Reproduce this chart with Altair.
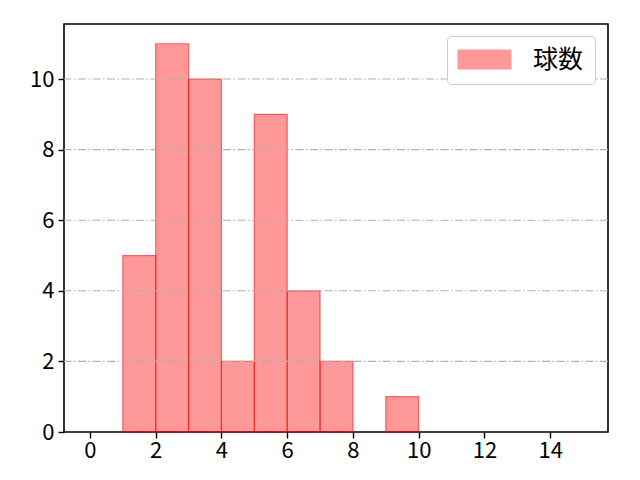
import altair as alt
import pandas as pd

bin_start = [1, 2, 3, 4, 5, 6, 7, 9]
bin_end = [2, 3, 4, 5, 6, 7, 8, 10]
counts = [5, 11, 10, 2, 9, 4, 2, 1]
series = ["球数"] * len(counts)
x_ticks = [0, 2, 4, 6, 8, 10, 12, 14]
y_ticks = [0, 2, 4, 6, 8, 10]
grid_y = [2, 4, 6, 8, 10]

bars_df = pd.DataFrame({"start": bin_start, "end": bin_end, "count": counts, "series": series})
grid_df = pd.DataFrame({"y": grid_y})

FONT = "Noto Sans CJK JP"
xscale = alt.Scale(domain=[-0.79, 15.76], nice=False, zero=False)
yscale = alt.Scale(domain=[0, 11.56], nice=False, zero=False)

bars = alt.Chart(bars_df).mark_rect(
    stroke="#ff0000", strokeOpacity=0.55, strokeWidth=1.2, fillOpacity=0.4
).encode(
    x=alt.X("start:Q", scale=xscale,
            axis=alt.Axis(values=x_ticks, title=None, grid=False, domain=False,
                          tickColor="black", tickSize=6, tickWidth=1.4,
                          labelFontSize=22, labelFont=FONT, labelColor="black",
                          labelPadding=2, format="d")),
    x2="end:Q",
    y=alt.Y("count:Q", scale=yscale,
            axis=alt.Axis(values=y_ticks, title=None, grid=False, domain=False,
                          tickColor="black", tickSize=6, tickWidth=1.4,
                          labelFontSize=22, labelFont=FONT, labelColor="black",
                          labelPadding=4, format="d")),
    y2=alt.datum(0),
    color=alt.Color("series:N", scale=alt.Scale(domain=["球数"], range=["#ff0000"]),
                    legend=alt.Legend(
                        title=None, orient="none", legendX=383, legendY=12,
                        symbolType="M-2.65,-0.95H2.65V0.95H-2.65Z", symbolSize=400,
                        symbolOffset=14,
                        symbolStrokeColor="#ff0000", symbolStrokeWidth=1,
                        symbolOpacity=0.4, symbolFillColor="#ff0000",
                        labelFontSize=25, labelFont=FONT, labelColor="black",
                        labelOffset=36, padding=11, strokeColor="#cccccc",
                        fillColor="white", cornerRadius=4)),
)

grid = alt.Chart(grid_df).mark_rule(
    color="#b0b0b0", strokeWidth=1.1, strokeDash=[8, 2.5, 1.5, 2.5]
).encode(y=alt.Y("y:Q", scale=yscale))

chart = alt.layer(bars, grid).properties(
    width=544, height=408,
    background="white",
    autosize=alt.AutoSizeParams(type="none"),
    padding={"left": 56, "top": 16, "right": 16, "bottom": 32},
).configure_view(stroke="black", strokeWidth=1.6)

chart.save("out.html", embed_options={"renderer": "svg", "actions": False})
